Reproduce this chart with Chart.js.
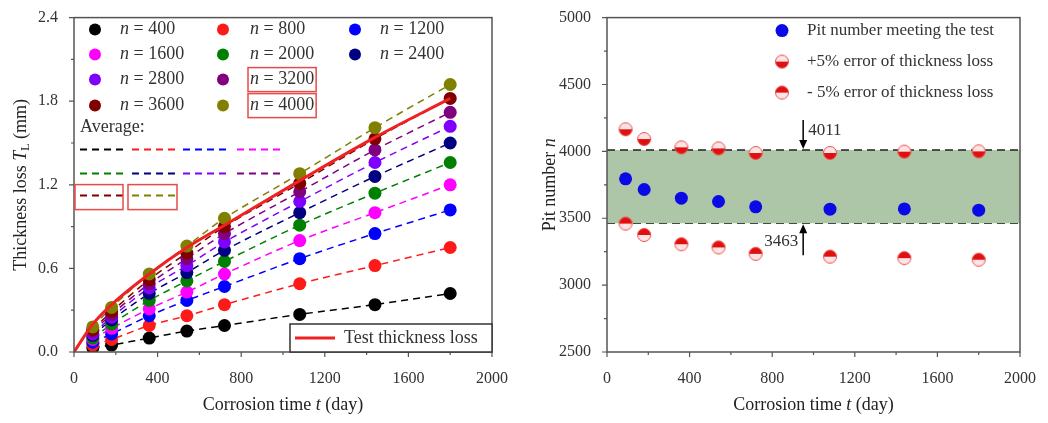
<!DOCTYPE html>
<html>
<head>
<meta charset="utf-8">
<script src="https://cdn.jsdelivr.net/npm/chart.js@4.4.0/dist/chart.umd.min.js"></script>
<style>
  body { margin: 0; background: #fff; width: 1048px; height: 423px; overflow: hidden; }
  .panel { position: absolute; top: 0; height: 423px; }
  #leftPanel { left: 0; width: 524px; }
  #rightPanel { left: 530px; width: 518px; }
</style>
</head>
<body>
<div class="panel" id="leftPanel"><canvas id="lossChart" width="524" height="423"></canvas></div>
<div class="panel" id="rightPanel"><canvas id="pitChart" width="518" height="423"></canvas></div>
<script>
// ---- data ----
const days = [90, 180, 360, 540, 720, 1080, 1440, 1800];
const pitCounts = [400, 800, 1200, 1600, 2000, 2400, 2800, 3200, 3600, 4000];

const loss400  = [0.03, 0.05, 0.10, 0.15, 0.19, 0.27, 0.34, 0.42];
const loss800  = [0.05, 0.09, 0.19, 0.26, 0.34, 0.49, 0.62, 0.75];
const loss1200 = [0.07, 0.13, 0.26, 0.37, 0.47, 0.67, 0.85, 1.02];
const loss1600 = [0.09, 0.17, 0.31, 0.43, 0.56, 0.80, 1.00, 1.20];
const loss2000 = [0.10, 0.20, 0.37, 0.51, 0.65, 0.91, 1.14, 1.36];
const loss2400 = [0.12, 0.23, 0.42, 0.57, 0.73, 1.00, 1.26, 1.50];
const loss2800 = [0.13, 0.25, 0.46, 0.62, 0.79, 1.08, 1.36, 1.62];
const loss3200 = [0.15, 0.27, 0.49, 0.67, 0.85, 1.15, 1.45, 1.72];
const loss3600 = [0.16, 0.29, 0.52, 0.71, 0.90, 1.21, 1.53, 1.82];
const loss4000 = [0.18, 0.32, 0.56, 0.76, 0.96, 1.28, 1.61, 1.92];
const lossByN = [loss400, loss800, loss1200, loss1600, loss2000, loss2400, loss2800, loss3200, loss3600, loss4000];

const testDays = [0, 90, 180, 360, 540, 720, 1080, 1440, 1800];
const testLoss = [0, 0.20, 0.34, 0.56, 0.75, 0.91, 1.23, 1.54, 1.82];

const pitMeet   = [3795, 3715, 3650, 3625, 3585, 3568, 3570, 3560];
const pitPlus5  = [4165, 4092, 4030, 4022, 3988, 3988, 3998, 4000];
const pitMinus5 = [3460, 3375, 3306, 3282, 3234, 3213, 3202, 3190];
const bandTop = 4011;
const bandBottom = 3463;
const arrowDay = 950;

const xTicks = [0, 400, 800, 1200, 1600, 2000];
const lossTicks = [0.0, 0.6, 1.2, 1.8, 2.4];
const pitTicks = [2500, 3000, 3500, 4000, 4500, 5000];

// ---- styles ----
const SERIF = "'Liberation Serif', 'Times New Roman', serif";
const nColors = ['#000000', '#ff1a1a', '#0000ff', '#ff00ff', '#008000', '#000080', '#8000ff', '#800080', '#800000', '#808000'];
const AXIS = '#555';

function pts(xs, ys) { return xs.map((x, i) => ({ x, y: ys[i] })); }

function richText(ctx, parts, cx, cy, rotate) {
    ctx.save();
    ctx.translate(cx, cy);
    if (rotate) ctx.rotate(-Math.PI / 2);
    let total = 0;
    parts.forEach(p => { ctx.font = p.font; total += ctx.measureText(p.t).width; });
    let x = -total / 2;
    ctx.textBaseline = 'middle';
    ctx.textAlign = 'left';
    ctx.fillStyle = '#222';
    parts.forEach(p => {
        ctx.font = p.font;
        ctx.fillText(p.t, x, p.dy || 0);
        x += ctx.measureText(p.t).width;
    });
    ctx.restore();
}

// frame + major/minor ticks
const framePlugin = {
    id: 'frame',
    afterDraw(chart, args, opts) {
        const { ctx, chartArea: a, scales: { x, y } } = chart;
        ctx.save();
        ctx.strokeStyle = AXIS;
        ctx.lineWidth = 1.5;
        ctx.strokeRect(a.left, a.top, a.width, a.height);
        ctx.lineWidth = 1.2;
        ctx.beginPath();
        const nx = Math.round((x.max - x.min) / opts.xMinor);
        for (let i = 0; i <= nx; i++) {
            const px = x.getPixelForValue(x.min + i * opts.xMinor);
            const len = i % 2 === 0 ? 5 : 3;
            ctx.moveTo(px, a.bottom); ctx.lineTo(px, a.bottom + len);
        }
        const ny = Math.round((y.max - y.min) / opts.yMinor);
        for (let i = 0; i <= ny; i++) {
            const py = y.getPixelForValue(y.min + i * opts.yMinor);
            const len = i % 2 === 0 ? 5 : 3;
            ctx.moveTo(a.left, py); ctx.lineTo(a.left - len, py);
        }
        ctx.stroke();
        ctx.restore();
    }
};

const titlePlugin = {
    id: 'titles',
    afterDraw(chart, args, opts) {
        const { ctx, chartArea: a } = chart;
        richText(ctx, opts.x, (a.left + a.right) / 2, chart.height - 18, false);
        richText(ctx, opts.y, opts.yx || 22, (a.top + a.bottom) / 2, true);
    }
};

const xTitle = [
    { t: 'Corrosion time ', font: `18px ${SERIF}` },
    { t: 't', font: `italic 18px ${SERIF}` },
    { t: ' (day)', font: `18px ${SERIF}` }
];

function scaleX() {
    return {
        type: 'linear', min: 0, max: 2000,
        afterBuildTicks: s => { s.ticks = xTicks.map(v => ({ value: v })); },
        afterFit: s => { s.height = 71; },
        grid: { display: false },
        border: { display: false },
        ticks: { font: { family: SERIF, size: 16 }, color: '#333', padding: 9, maxRotation: 0, callback: v => String(v) }
    };
}

// ---- left chart: thickness loss ----
const lossLegendPlugin = {
    id: 'lossLegend',
    afterDraw(chart) {
        const { ctx, chartArea: a } = chart;
        ctx.save();
        const colMark = [21, 149, 281];
        const colText = [46, 176, 306];
        const rowY = [12, 37, 62, 88];
        const cells = [[0,0],[1,0],[2,0],[0,1],[1,1],[2,1],[0,2],[1,2],[0,3],[1,3]];
        ctx.textBaseline = 'middle';
        pitCounts.forEach((n, i) => {
            const [c, r] = cells[i];
            const y = a.top + rowY[r];
            ctx.fillStyle = nColors[i];
            ctx.beginPath();
            ctx.arc(a.left + colMark[c], y, 6, 0, Math.PI * 2);
            ctx.fill();
            const tx = a.left + colText[c];
            ctx.fillStyle = '#333';
            ctx.font = `italic 18px ${SERIF}`;
            ctx.fillText('n', tx, y);
            const w = ctx.measureText('n').width;
            ctx.font = `18px ${SERIF}`;
            ctx.fillText(' = ' + n, tx + w, y);
            if (n === 3200 || n === 4000) {
                const tw = w + ctx.measureText(' = ' + n).width;
                ctx.strokeStyle = '#e84a4a';
                ctx.lineWidth = 1.5;
                ctx.strokeRect(tx - 2, y - 12, tw + 4, 24);
            }
        });
        // Average: dashed samples
        ctx.fillStyle = '#333';
        ctx.font = `18px ${SERIF}`;
        ctx.fillText('Average:', a.left + 6, a.top + 110);
        const segs = [[6, 49], [58, 101], [109, 156], [163, 206]];
        const rows = [[0, 1, 2, 3], [4, 5, 6, 7], [8, 9]];
        const rowDash = [132, 156, 178];
        ctx.setLineDash([7, 5]);
        ctx.lineWidth = 2;
        rows.forEach((idx, r) => {
            idx.forEach((k, j) => {
                ctx.strokeStyle = nColors[k];
                ctx.beginPath();
                ctx.moveTo(a.left + segs[j][0], a.top + rowDash[r]);
                ctx.lineTo(a.left + segs[j][1], a.top + rowDash[r]);
                ctx.stroke();
            });
        });
        ctx.setLineDash([]);
        ctx.strokeStyle = '#e84a4a';
        ctx.lineWidth = 1.5;
        ctx.strokeRect(a.left + 1, a.top + 167, 48, 25);
        ctx.strokeRect(a.left + 54, a.top + 167, 49, 25);
        // test legend box
        const bx = a.right - 202, by = a.bottom - 28;
        ctx.fillStyle = '#fff';
        ctx.fillRect(bx, by, 202, 28);
        ctx.strokeStyle = '#333';
        ctx.lineWidth = 1.5;
        ctx.strokeRect(bx, by, 202, 28);
        ctx.strokeStyle = '#ee2222';
        ctx.lineWidth = 3;
        ctx.beginPath();
        ctx.moveTo(bx + 5, by + 14); ctx.lineTo(bx + 45, by + 14);
        ctx.stroke();
        ctx.fillStyle = '#333';
        ctx.font = `18px ${SERIF}`;
        ctx.fillText('Test thickness loss', bx + 54, by + 14);
        ctx.restore();
    }
};

const lossDatasets = [{
    label: 'Test thickness loss',
    data: pts(testDays, testLoss),
    showLine: true,
    borderColor: '#ee2222',
    borderWidth: 3,
    pointRadius: 0,
    cubicInterpolationMode: 'monotone',
    order: 0
}];
pitCounts.forEach((n, i) => {
    lossDatasets.push({
        label: 'n = ' + n,
        data: pts(days, lossByN[i]),
        backgroundColor: nColors[i],
        borderColor: nColors[i],
        pointRadius: 6.5,
        pointBorderWidth: 0,
        order: 1 + (pitCounts.length - i) * 0.01
    });
    lossDatasets.push({
        label: 'fit ' + n,
        data: pts(days, lossByN[i]),
        showLine: true,
        borderColor: nColors[i],
        borderWidth: 1.5,
        borderDash: [7, 5],
        pointRadius: 0,
        tension: 0.3,
        order: 2
    });
});

new Chart(document.getElementById('lossChart'), {
    type: 'scatter',
    data: { datasets: lossDatasets },
    options: {
        responsive: false,
        animation: false,
        layout: { padding: { top: 15, right: 32, left: 0, bottom: 0 } },
        plugins: {
            legend: { display: false },
            tooltip: { enabled: false },
            frame: { xMinor: 200, yMinor: 0.3 },
            titles: {
                x: xTitle,
                yx: 21,
                y: [
                    { t: 'Thickness loss ', font: `18px ${SERIF}` },
                    { t: 'T', font: `italic 18px ${SERIF}` },
                    { t: 'L', font: `12px ${SERIF}`, dy: 5 },
                    { t: ' (mm)', font: `18px ${SERIF}` }
                ]
            }
        },
        scales: {
            x: scaleX(),
            y: {
                type: 'linear', min: 0, max: 2.4,
                afterBuildTicks: s => { s.ticks = lossTicks.map(v => ({ value: v })); },
                afterFit: s => { s.width = 74; },
                grid: { display: false },
                border: { display: false },
                ticks: { font: { family: SERIF, size: 16 }, color: '#333', padding: 8, callback: v => v.toFixed(1) }
            }
        }
    },
    plugins: [framePlugin, titlePlugin, lossLegendPlugin]
});

// ---- right chart: pit number ----
function halfMarker(topFilled) {
    const c = document.createElement('canvas');
    c.width = 16; c.height = 16;
    const g = c.getContext('2d');
    g.fillStyle = '#fde4e4';
    g.beginPath(); g.arc(8, 8, 6.5, 0, Math.PI * 2); g.fill();
    g.fillStyle = '#e01010';
    g.beginPath();
    if (topFilled) g.arc(8, 8, 6.5, Math.PI, 0);
    else g.arc(8, 8, 6.5, 0, Math.PI);
    g.closePath(); g.fill();
    g.strokeStyle = '#e85050'; g.lineWidth = 1;
    g.beginPath(); g.arc(8, 8, 6.5, 0, Math.PI * 2); g.stroke();
    return c;
}
const plusMarker = halfMarker(true);
const minusMarker = halfMarker(false);
const blueDot = '#0a0ae6';

const pitLegendPlugin = {
    id: 'pitLegend',
    afterDraw(chart) {
        const { ctx, chartArea: a, scales: { x, y } } = chart;
        ctx.save();
        const items = [
            { label: 'Pit number meeting the test', mark: null },
            { label: '+5% error of thickness loss', mark: minusMarker },
            { label: '- 5% error of thickness loss', mark: plusMarker }
        ];
        ctx.textBaseline = 'middle';
        ctx.font = `17px ${SERIF}`;
        items.forEach((it, i) => {
            const yy = a.top + 13 + i * 31;
            const mx = a.left + 175;
            if (it.mark) ctx.drawImage(it.mark, mx - 8, yy - 8);
            else {
                ctx.fillStyle = blueDot;
                ctx.beginPath(); ctx.arc(mx, yy, 6.5, 0, Math.PI * 2); ctx.fill();
            }
            ctx.fillStyle = '#333';
            ctx.fillText(it.label, mx + 25, yy);
        });
        // arrows
        const ax = x.getPixelForValue(arrowDay);
        const topTip = y.getPixelForValue(bandTop);
        const botTip = y.getPixelForValue(bandBottom);
        ctx.strokeStyle = '#000'; ctx.fillStyle = '#000'; ctx.lineWidth = 1.5;
        ctx.beginPath(); ctx.moveTo(ax, topTip - 30); ctx.lineTo(ax, topTip - 8); ctx.stroke();
        ctx.beginPath(); ctx.moveTo(ax - 4, topTip - 10); ctx.lineTo(ax + 4, topTip - 10); ctx.lineTo(ax, topTip - 1); ctx.fill();
        ctx.beginPath(); ctx.moveTo(ax, botTip + 32); ctx.lineTo(ax, botTip + 8); ctx.stroke();
        ctx.beginPath(); ctx.moveTo(ax - 4, botTip + 10); ctx.lineTo(ax + 4, botTip + 10); ctx.lineTo(ax, botTip + 1); ctx.fill();
        ctx.fillStyle = '#333';
        ctx.font = `17px ${SERIF}`;
        ctx.textAlign = 'left';
        ctx.fillText(String(bandTop), ax + 5, topTip - 19);
        ctx.textAlign = 'right';
        ctx.fillText(String(bandBottom), ax - 5, botTip + 18);
        ctx.restore();
    }
};

new Chart(document.getElementById('pitChart'), {
    type: 'scatter',
    data: {
        datasets: [
            {
                label: 'Pit number meeting the test',
                data: pts(days, pitMeet),
                backgroundColor: blueDot,
                pointRadius: 6.5,
                pointBorderWidth: 0,
                order: 0
            },
            {
                label: '+5% error of thickness loss',
                data: pts(days, pitPlus5),
                pointStyle: minusMarker,
                order: 0
            },
            {
                label: '- 5% error of thickness loss',
                data: pts(days, pitMinus5),
                pointStyle: plusMarker,
                order: 0
            },
            {
                label: 'upper',
                data: [{ x: 0, y: bandTop }, { x: 2000, y: bandTop }],
                showLine: true,
                borderColor: '#222',
                borderWidth: 1.5,
                borderDash: [8, 5],
                pointRadius: 0,
                backgroundColor: '#aec6a8',
                fill: '+1',
                order: 1
            },
            {
                label: 'lower',
                data: [{ x: 0, y: bandBottom }, { x: 2000, y: bandBottom }],
                showLine: true,
                borderColor: '#222',
                borderWidth: 1.5,
                borderDash: [8, 5],
                pointRadius: 0,
                order: 1
            }
        ]
    },
    options: {
        responsive: false,
        animation: false,
        layout: { padding: { top: 15, right: 28, left: 0, bottom: 0 } },
        plugins: {
            legend: { display: false },
            tooltip: { enabled: false },
            filler: { propagate: false },
            frame: { xMinor: 200, yMinor: 250 },
            titles: {
                x: xTitle,
                yx: 20,
                y: [
                    { t: 'Pit number ', font: `18px ${SERIF}` },
                    { t: 'n', font: `italic 18px ${SERIF}` }
                ]
            }
        },
        scales: {
            x: scaleX(),
            y: {
                type: 'linear', min: 2500, max: 5000,
                afterBuildTicks: s => { s.ticks = pitTicks.map(v => ({ value: v })); },
                afterFit: s => { s.width = 77; },
                grid: { display: false },
                border: { display: false },
                ticks: { font: { family: SERIF, size: 16 }, color: '#333', padding: 8, callback: v => String(v) }
            }
        }
    },
    plugins: [framePlugin, titlePlugin, pitLegendPlugin]
});
</script>
</body>
</html>
